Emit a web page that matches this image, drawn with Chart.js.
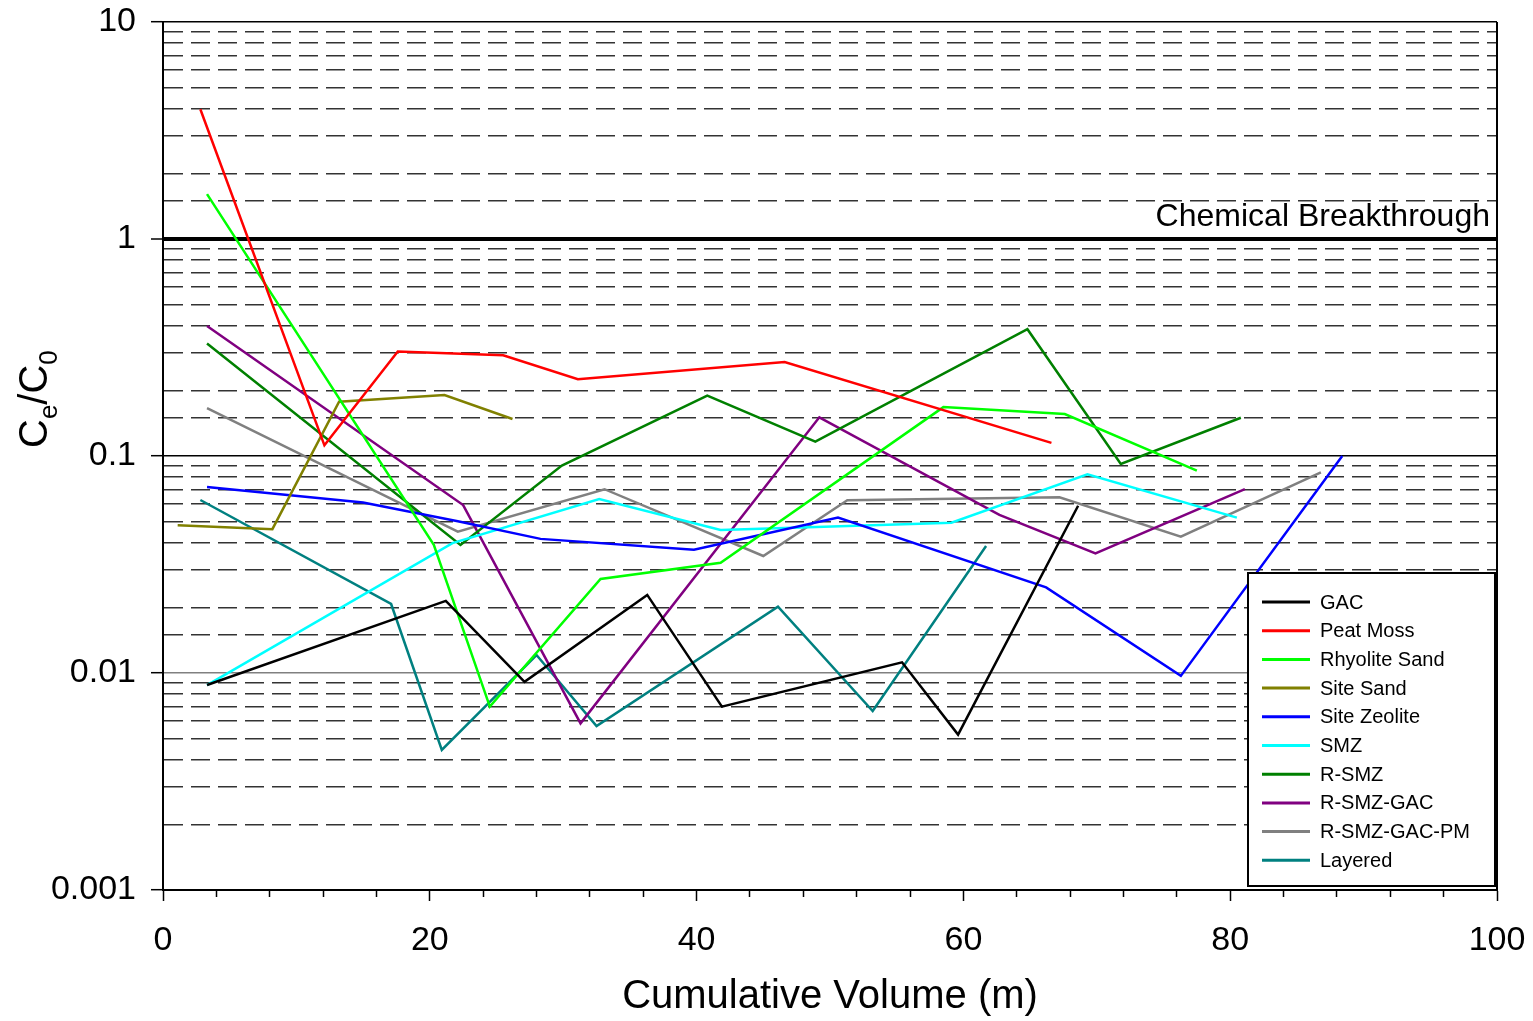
<!DOCTYPE html>
<html>
<head>
<meta charset="utf-8">
<script src="https://cdn.jsdelivr.net/npm/chart.js@4.4.1/dist/chart.umd.min.js"></script>
<style>
  html, body { margin: 0; padding: 0; background: #fff; }
  #wrap { width: 1533px; height: 1021px; position: relative; }
</style>
</head>
<body>
<div id="wrap"><canvas id="chart"></canvas></div>
<script>
// values (x = cumulative volume, y = Ce/C0)
const seriesNames = ['GAC', 'Peat Moss', 'Rhyolite Sand', 'Site Sand', 'Site Zeolite',
                     'SMZ', 'R-SMZ', 'R-SMZ-GAC', 'R-SMZ-GAC-PM', 'Layered'];

const gacX = [3.3, 21.2, 27.1, 36.3, 41.9, 55.4, 59.6, 68.6];
const gacY = [0.0088, 0.0215, 0.0091, 0.0229, 0.0070, 0.0112, 0.0052, 0.059];

const peatX = [2.8, 12.1, 17.6, 25.5, 31.1, 46.6, 66.6];
const peatY = [3.96, 0.112, 0.303, 0.291, 0.226, 0.271, 0.115];

const rhyoliteX = [3.3, 20.3, 24.5, 32.8, 41.8, 58.5, 67.6, 77.5];
const rhyoliteY = [1.61, 0.039, 0.0070, 0.0271, 0.0322, 0.168, 0.156, 0.0856];

const siteSandX = [1.1, 8.2, 13.2, 21.1, 26.2];
const siteSandY = [0.048, 0.046, 0.178, 0.191, 0.148];

const zeoliteX = [3.3, 15.0, 22.1, 28.3, 39.8, 50.6, 66.2, 76.3, 88.4];
const zeoliteY = [0.072, 0.061, 0.050, 0.0415, 0.037, 0.052, 0.0248, 0.0097, 0.1];

const smzX = [3.3, 21.7, 32.7, 41.8, 59.1, 69.3, 80.5];
const smzY = [0.0088, 0.0397, 0.0634, 0.0456, 0.0493, 0.0823, 0.052];

const rsmzX = [3.3, 22.3, 29.9, 40.8, 48.9, 64.8, 71.8, 80.8];
const rsmzY = [0.33, 0.0389, 0.0903, 0.19, 0.1164, 0.384, 0.0919, 0.150];

const rsmzGacX = [3.3, 22.5, 31.3, 49.2, 62.7, 69.9, 81.1];
const rsmzGacY = [0.397, 0.0594, 0.00586, 0.1507, 0.0535, 0.0356, 0.0703];

const rsmzGacPmX = [3.3, 22.1, 33.1, 45.0, 51.3, 67.2, 76.3, 86.8];
const rsmzGacPmY = [0.166, 0.0448, 0.0703, 0.0346, 0.0625, 0.0645, 0.0425, 0.0841];

const layeredX = [2.8, 17.1, 20.9, 28.0, 32.5, 46.1, 53.2, 61.7];
const layeredY = [0.0627, 0.0208, 0.00442, 0.0121, 0.0057, 0.0202, 0.00668, 0.0385];

const breakthroughLevel = 1;
const breakthroughLabel = 'Chemical Breakthrough';

const allX = [gacX, peatX, rhyoliteX, siteSandX, zeoliteX, smzX, rsmzX, rsmzGacX, rsmzGacPmX, layeredX];
const allY = [gacY, peatY, rhyoliteY, siteSandY, zeoliteY, smzY, rsmzY, rsmzGacY, rsmzGacPmY, layeredY];
const colors = ['#000000', '#ff0000', '#00ff00', '#808000', '#0000ff',
                '#00ffff', '#008000', '#800080', '#808080', '#008080'];

const FONT = "'Liberation Sans', Arial, sans-serif";

function isDecade(v) {
    if (v === undefined) return true;
    const l = Math.log10(v);
    return Math.abs(l - Math.round(l)) < 1e-6;
}

let datasets = seriesNames.map((name, i) => ({
    label: name,
    data: allX[i].map((x, j) => ({ x: x, y: allY[i][j] })),
    borderColor: colors[i],
    backgroundColor: colors[i],
    borderWidth: 2.5,
    pointRadius: 0,
    tension: 0,
    fill: false
}));

// legend box, breakthrough label, right frame and the y title with subscripts
const extras = {
    id: 'extras',
    afterDraw(chart) {
        const ctx = chart.ctx;
        const area = chart.chartArea;
        ctx.save();

        // right frame line
        ctx.strokeStyle = '#000';
        ctx.lineWidth = 2;
        ctx.beginPath();
        ctx.moveTo(area.right, area.top);
        ctx.lineTo(area.right, area.bottom);
        ctx.stroke();

        // breakthrough label
        const yb = chart.scales.y.getPixelForValue(breakthroughLevel);
        ctx.fillStyle = '#000';
        ctx.font = '32px ' + FONT;
        ctx.textAlign = 'right';
        ctx.textBaseline = 'alphabetic';
        ctx.fillText(breakthroughLabel, area.right - 7, yb - 13);

        // legend
        const lx = 1248, ly = 573, lw = 247, lh = 313;
        ctx.fillStyle = '#fff';
        ctx.fillRect(lx, ly, lw, lh);
        ctx.strokeStyle = '#000';
        ctx.lineWidth = 2;
        ctx.strokeRect(lx, ly, lw, lh);
        ctx.font = '20px ' + FONT;
        ctx.textAlign = 'left';
        ctx.textBaseline = 'middle';
        seriesNames.forEach((name, i) => {
            const yy = ly + 29 + i * 28.7;
            ctx.strokeStyle = colors[i];
            ctx.lineWidth = 3;
            ctx.beginPath();
            ctx.moveTo(lx + 14, yy);
            ctx.lineTo(lx + 62, yy);
            ctx.stroke();
            ctx.fillStyle = '#000';
            ctx.fillText(name, lx + 72, yy + 1);
        });

        // y title: Ce/C0
        ctx.translate(47, 448);
        ctx.rotate(-Math.PI / 2);
        ctx.textAlign = 'left';
        ctx.textBaseline = 'alphabetic';
        ctx.fillStyle = '#000';
        let x = 0;
        const parts = [['C', 40, 0], ['e', 26, 10], ['/', 40, 0], ['C', 40, 0], ['0', 26, 10]];
        parts.forEach(p => {
            ctx.font = p[1] + 'px ' + FONT;
            ctx.fillText(p[0], x, p[2]);
            x += ctx.measureText(p[0]).width;
        });
        ctx.restore();
    }
};

let chart_ele = document.getElementById('chart').getContext('2d');

var chart = new Chart(chart_ele, {
    type: 'line',
    data: { datasets: datasets },
    plugins: [extras],
    options: {
        responsive: true,
        maintainAspectRatio: false,
        animation: false,
        devicePixelRatio: 1,
        layout: { padding: { top: 22, right: 36, left: 0, bottom: 0 } },
        plugins: {
            legend: { display: false },
            tooltip: { enabled: false }
        },
        scales: {
            x: {
                type: 'linear',
                min: 0,
                max: 100,
                afterFit: s => { s.height = 131; s.paddingLeft = 0; s.paddingRight = 0; },
                ticks: {
                    stepSize: 4,
                    autoSkip: false,
                    maxRotation: 0,
                    padding: 19,
                    color: '#000',
                    font: { family: FONT, size: 34 },
                    callback: v => (v % 20 === 0 ? String(v) : '')
                },
                grid: {
                    drawOnChartArea: false,
                    tickLength: 11,
                    tickWidth: 1.5,
                    tickColor: '#000',
                    tickBorderDash: c => (c.tick && c.tick.value % 20 !== 0 ? [6, 30] : [])
                },
                border: { color: '#000', width: 2 },
                title: {
                    display: true,
                    text: 'Cumulative Volume (m)',
                    color: '#000',
                    font: { family: FONT, size: 40 },
                    padding: { top: 0, bottom: 0 }
                }
            },
            y: {
                type: 'logarithmic',
                min: 0.001,
                max: 10,
                afterFit: s => { s.width = 163; s.paddingTop = 0; s.paddingBottom = 0; },
                ticks: {
                    autoSkip: false,
                    padding: 15,
                    color: '#000',
                    font: { family: FONT, size: 34 },
                    callback: v => (isDecade(v) ? String(v) : '')
                },
                grid: {
                    color: c => {
                        const v = c.tick ? c.tick.value : undefined;
                        if (v !== undefined && Math.abs(v - 0.01) < 1e-9) return '#808080';
                        return isDecade(v) ? '#000' : '#333333';
                    },
                    lineWidth: c => (c.tick && Math.abs(c.tick.value - breakthroughLevel) < 1e-9 ? 4 : 1.4),
                    tickLength: 12,
                    tickWidth: 1.5,
                    tickColor: c => (isDecade(c.tick ? c.tick.value : undefined) ? '#000' : 'rgba(0,0,0,0)')
                },
                border: {
                    color: '#000',
                    width: 2,
                    dash: c => (isDecade(c.tick ? c.tick.value : undefined) ? [] : [19, 8])
                }
            }
        }
    }
});
</script>
</body>
</html>
